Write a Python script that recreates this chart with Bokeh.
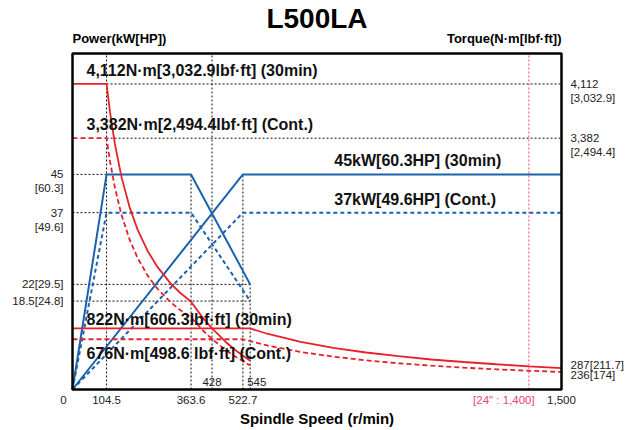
from bokeh.plotting import figure
from bokeh.models import Range1d, Label, Span, ColumnDataSource, BoxAnnotation
from bokeh.embed import file_html
from bokeh.resources import INLINE

# ---------------- data ----------------
speed_ticks = [0, 104.5, 363.6, 522.7, 1500]
speed_tick_labels = ["0", "104.5", "363.6", "522.7", "1,500"]
inner_speed_marks = [428, 545]
chuck_speed = 1400
chuck_label = "[24\" : 1,400]"

# power curves (kW)
low_30_speed = [0, 104.5, 363.6, 545]
low_30_power = [0, 45, 45, 22]
low_cont_speed = [0, 104.5, 363.6, 545]
low_cont_power = [0, 37, 37, 18.5]
high_30_speed = [0, 522.7, 1500]
high_30_power = [0, 45, 45]
high_cont_speed = [0, 522.7, 1500]
high_cont_power = [0, 37, 37]

# torque curves (N·m)
low_t_speed = [0, 104.5, 115, 130, 150, 175, 200, 230, 260, 300, 330, 363.6, 400, 428, 470, 500, 545]
low_30_torque = [4112, 4112, 3737, 3305, 2865, 2455, 2149, 1868, 1653, 1432, 1302, 1182, 964, 822, 640, 529, 385]
low_cont_torque = [3382, 3382, 3072, 2718, 2355, 2019, 1767, 1536, 1359, 1178, 1071, 972, 795, 679, 531, 441, 324]
high_30_t_speed = [0, 545, 600, 700, 800, 900, 1000, 1100, 1200, 1300, 1400, 1500]
high_30_torque = [822, 822, 747, 640, 560, 498, 448, 404, 370, 340, 312, 287]
high_cont_t_speed = [0, 522.7, 600, 700, 800, 900, 1000, 1100, 1200, 1300, 1400, 1500]
high_cont_torque = [676, 676, 589, 505, 442, 393, 353, 321, 294, 272, 252, 236]

# tick labels
power_ticks = [45, 37, 22, 18.5]
power_tick_main = ["45", "37", "22[29.5]", "18.5[24.8]"]
power_tick_sub = ["[60.3]", "[49.6]", "", ""]
torque_ticks = [4112, 3382, 287, 236]
torque_tick_main = ["4,112", "3,382", "287[211.7]", "236[174]"]
torque_tick_sub = ["[3,032.9]", "[2,494.4]", "", ""]

# curve annotations
torque_notes = [(4112, "4,112N·m[3,032.9lbf·ft] (30min)"),
                (3382, "3,382N·m[2,494.4lbf·ft] (Cont.)"),
                (822, "822N·m[606.3lbf·ft] (30min)"),
                (676, "676N·m[498.6 lbf·ft] (Cont.)")]
power_notes = [(45, "45kW[60.3HP] (30min)"), (37, "37kW[49.6HP] (Cont.)")]

S_MAX = 1500
P_MAX = 70.3
T_MAX = 4522

# ---------------- layout (pixels of the plotting box inside the 636x430 canvas) ----------------
W, H = 636, 430
BOX_L, BOX_R, BOX_T, BOX_B = 72, 561, 53, 389
sx = S_MAX / (BOX_R - BOX_L)
sp = P_MAX / (BOX_B - BOX_T)
st = T_MAX / (BOX_B - BOX_T)

BLUE = "#1a62ae"
RED = "#e8202a"
PINK = "#e8427c"
FONT = "Liberation Sans"

p = figure(width=W, height=H,
           x_range=Range1d(-BOX_L * sx, S_MAX + (W - BOX_R) * sx),
           y_range=Range1d(-(H - BOX_B) * sp, P_MAX + BOX_T * sp),
           output_backend="svg", toolbar_location=None,
           x_axis_location=None, y_axis_location=None, title_location=None,
           min_border=0)
p.extra_y_ranges = {"torque": Range1d(-(H - BOX_B) * st, T_MAX + BOX_T * st)}
p.grid.visible = False
p.outline_line_color = None
p.background_fill_color = "white"
p.border_fill_color = "white"

# reference dashed lines
ref_p = ColumnDataSource(dict(
    x0=[low_30_speed[1], inner_speed_marks[0], low_30_speed[2], high_30_speed[1], inner_speed_marks[1],
        0, 0, 0, 0],
    y0=[0, 0, 0, 0, 0, low_30_power[1], low_cont_power[1], low_30_power[3], low_cont_power[3]],
    x1=[low_30_speed[1], inner_speed_marks[0], low_30_speed[2], high_30_speed[1], inner_speed_marks[1],
        low_30_speed[1], low_30_speed[1], low_30_speed[3], low_30_speed[3]],
    y1=[P_MAX, P_MAX, low_30_power[2], high_30_power[1], low_30_power[3],
        low_30_power[1], low_cont_power[1], low_30_power[3], low_cont_power[3]],
))
p.segment("x0", "y0", "x1", "y1", source=ref_p, line_color="#111111", line_width=1, line_dash="2 2")
ref_t = ColumnDataSource(dict(x0=[low_30_speed[1]] * 2, x1=[S_MAX] * 2,
                              y0=[low_30_torque[0], low_cont_torque[0]], y1=[low_30_torque[0], low_cont_torque[0]]))
p.segment("x0", "y0", "x1", "y1", source=ref_t, y_range_name="torque",
          line_color="#111111", line_width=1, line_dash="2 2")

p.segment(x0=[chuck_speed], y0=[0], x1=[chuck_speed], y1=[P_MAX],
          line_color=PINK, line_width=1, line_dash="2 2")

# power lines
p.line(low_30_speed, low_30_power, line_color=BLUE, line_width=2)
p.line(high_30_speed, high_30_power, line_color=BLUE, line_width=2)
p.line(low_cont_speed, low_cont_power, line_color=BLUE, line_width=2, line_dash="4 3")
p.line(high_cont_speed, high_cont_power, line_color=BLUE, line_width=2, line_dash="4 3")

# torque lines
p.line(low_t_speed, low_30_torque, y_range_name="torque", line_color=RED, line_width=1.8)
p.line(high_30_t_speed, high_30_torque, y_range_name="torque", line_color=RED, line_width=1.8)
p.line(low_t_speed, low_cont_torque, y_range_name="torque", line_color=RED, line_width=1.8, line_dash="5 3")
p.line(high_cont_t_speed, high_cont_torque, y_range_name="torque", line_color=RED, line_width=1.8, line_dash="5 3")

# plotting box frame
p.add_layout(BoxAnnotation(left=0, right=S_MAX, bottom=0, top=P_MAX, fill_alpha=0,
                           line_color="black", line_width=2.5, line_alpha=1))


def lab(**kw):
    base = dict(text_font=FONT, text_baseline="middle", text_color="#222222", text_font_size="11.5px")
    base.update(kw)
    p.add_layout(Label(**base))


# title
lab(x=S_MAX / 2, y=P_MAX, y_offset=35, text="L500LA", text_align="center",
    text_font_size="28px", text_font_style="bold", text_color="black")

# left tick labels
for v, m, s in zip(power_ticks, power_tick_main, power_tick_sub):
    lab(x=0, y=v, x_offset=-9, text=m, text_align="right")
    if s:
        lab(x=0, y=v, x_offset=-9, y_offset=-14, text=s, text_align="right")

# right tick labels
nudge = {287: 3, 236: -3.5}
for v, m, s in zip(torque_ticks, torque_tick_main, torque_tick_sub):
    lab(x=S_MAX, y=v, y_range_name="torque", x_offset=9, y_offset=nudge.get(v, 0), text=m, text_align="left")
    if s:
        lab(x=S_MAX, y=v, y_range_name="torque", x_offset=9, y_offset=-14, text=s, text_align="left")

# bottom tick labels
for v, t in zip(speed_ticks, speed_tick_labels):
    lab(x=v, y=0, y_offset=-10, x_offset=(-9 if v == 0 else 0), text=t, text_align="center")
lab(x=chuck_speed, y=0, y_offset=-10, x_offset=-25, text=chuck_label, text_align="center", text_color=PINK)

# inner speed labels
lab(x=inner_speed_marks[0], y=0, y_offset=7.5, text=str(inner_speed_marks[0]), text_align="center")
lab(x=inner_speed_marks[1], y=0, y_offset=7.5, x_offset=-3, text=str(inner_speed_marks[1]), text_align="left")

# axis titles
lab(x=0, y=P_MAX, y_offset=15.5, text="Power(kW[HP])", text_align="left",
    text_font_size="13px", text_font_style="bold", text_color="black")
lab(x=S_MAX, y=P_MAX, y_offset=15.5, text="Torque(N·m[lbf·ft])", text_align="right",
    text_font_size="13px", text_font_style="bold", text_color="black")
lab(x=S_MAX / 2, y=0, y_offset=-29, text="Spindle Speed (r/min)", text_align="center",
    text_font_size="15px", text_font_style="bold", text_color="black")

# curve notes
t_off = {4112: 13, 3382: 13.5, 822: 9, 676: -14}
for v, t in torque_notes:
    lab(x=0, y=v, y_range_name="torque", x_offset=14, y_offset=t_off[v], text=t, text_align="left",
        text_font_size="16px", text_font_style="bold", text_color="#111111")
for v, t in power_notes:
    lab(x=803, y=v, y_offset=13.5, text=t, text_align="left",
        text_font_size="16px", text_font_style="bold", text_color="#111111")

open("out.html", "w").write(file_html(p, INLINE))
